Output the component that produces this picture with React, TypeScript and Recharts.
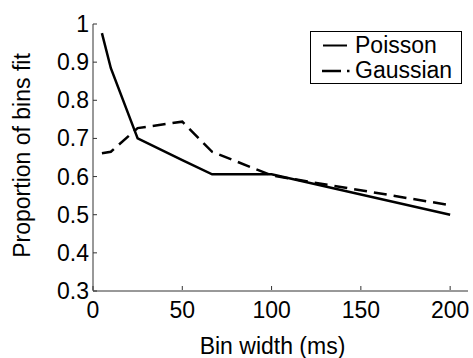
import React from 'react';
import { LineChart, Line, XAxis, YAxis, Legend, Label } from 'recharts';

const binWidths = [5, 10, 25, 50, 66.7, 100, 200];
const poisson = [0.976, 0.884, 0.7, 0.643, 0.606, 0.606, 0.5];
const gaussian = [0.661, 0.665, 0.727, 0.744, 0.665, 0.603, 0.525];
const xTicks = [0, 50, 100, 150, 200];
const yTicks = [0.3, 0.4, 0.5, 0.6, 0.7, 0.8, 0.9, 1];
const seriesNames = ['Poisson', 'Gaussian'];
const xLabel = 'Bin width (ms)';
const yLabel = 'Proportion of bins fit';

const data = binWidths.map((b, i) => ({ bin: b, Poisson: poisson[i], Gaussian: gaussian[i] }));

const FONT = '"Liberation Sans", Arial, Helvetica, sans-serif';
const AXIS = '#333';
const TL = 4;

const fmtY = (v: number) => (Math.abs(v - 1) < 1e-9 ? '1' : v.toFixed(1));

const LeftTick = (p: any) => (
  <g>
    <line x1={p.x + 4} x2={p.x + 4 + TL} y1={p.y} y2={p.y} stroke={AXIS} strokeWidth={1} />
    <text x={p.x} y={p.y} textAnchor="end" dominantBaseline="central" fontSize={23} fontFamily={FONT} fill="#000">
      {fmtY(p.payload.value)}
    </text>
  </g>
);

const BottomTick = (p: any) => (
  <g>
    <line x1={p.x} x2={p.x} y1={p.y - 11} y2={p.y - 11 - TL} stroke={AXIS} strokeWidth={1} />
    <text x={p.x} y={p.y} dy="0.72em" textAnchor="middle" fontSize={23} fontFamily={FONT} fill="#000">
      {p.payload.value}
    </text>
  </g>
);

const TopTick = (p: any) => (
  <line x1={p.x} x2={p.x} y1={p.y} y2={p.y + TL} stroke={AXIS} strokeWidth={1} />
);

const RightTick = (p: any) => (
  <line x1={p.x} x2={p.x - TL} y1={p.y} y2={p.y} stroke={AXIS} strokeWidth={1} />
);

const renderLegend = (props: any) => {
  const items = [...(props.payload || [])].sort(
    (a: any, b: any) => seriesNames.indexOf(a.value) - seriesNames.indexOf(b.value)
  );
  return (
    <div
      style={{
        position: 'relative',
        width: 152,
        height: 53,
        boxSizing: 'border-box',
        border: '1px solid #000',
        background: '#fff',
        fontFamily: FONT,
        fontSize: 23,
        color: '#000',
      }}
    >
      {items.map((it: any, i: number) => {
        const dashed = !!(it.payload && it.payload.strokeDasharray);
        const top = i === 0 ? 1 : 26;
        return (
          <div key={it.value} style={{ position: 'absolute', left: 0, top, height: 25, width: 150 }}>
            <svg width={40} height={25} style={{ position: 'absolute', left: 10, top: 0 }}>
              {dashed ? (
                <g>
                  <line x1={1} x2={20} y1={13} y2={13} stroke="#000" strokeWidth={2.5} />
                  <line x1={26} x2={28.5} y1={13} y2={13} stroke="#000" strokeWidth={2.5} />
                </g>
              ) : (
                <line x1={2} x2={26} y1={12.5} y2={12.5} stroke="#000" strokeWidth={2} />
              )}
            </svg>
            <span style={{ position: 'absolute', left: 44, top: 0, lineHeight: '25px', whiteSpace: 'nowrap' }}>
              {it.value}
            </span>
          </div>
        );
      })}
    </div>
  );
};

export default function App() {
  return (
    <div style={{ position: 'absolute', left: 0, top: 0, background: '#fff' }}>
      <LineChart width={473} height={358} data={data} margin={{ top: 24, right: 5, left: 0, bottom: 0 }}>
        <XAxis
          dataKey="bin"
          type="number"
          domain={[0, 210]}
          ticks={xTicks}
          allowDataOverflow
          height={67}
          tickSize={0}
          tickMargin={10}
          tickLine={false}
          axisLine={{ stroke: AXIS, strokeWidth: 1 }}
          tick={BottomTick}
          interval={0}
        >
          <Label
            content={(lp: any) => {
              const vb = lp.viewBox;
              return (
                <text x={vb.x + vb.width / 2 - 8} y={354} textAnchor="middle" fontSize={23} fontFamily={FONT} fill="#000">
                  {xLabel}
                </text>
              );
            }}
          />
        </XAxis>
        <XAxis
          xAxisId="top"
          orientation="top"
          dataKey="bin"
          type="number"
          domain={[0, 210]}
          ticks={xTicks}
          allowDataOverflow
          height={0}
          tickSize={0}
          tickMargin={0}
          tickLine={false}
          axisLine={{ stroke: AXIS, strokeWidth: 1 }}
          tick={TopTick}
          interval={0}
        />
        <YAxis
          type="number"
          domain={[0.3, 1]}
          ticks={yTicks}
          allowDataOverflow
          width={93}
          tickSize={0}
          tickMargin={4}
          tickLine={false}
          axisLine={{ stroke: AXIS, strokeWidth: 1 }}
          tick={LeftTick}
          interval={0}
        >
          <Label
            content={(lp: any) => {
              const vb = lp.viewBox;
              const cy = vb.y + vb.height / 2 - 2;
              return (
                <text
                  x={30}
                  y={cy}
                  transform={`rotate(-90 30 ${cy})`}
                  textAnchor="middle"
                  fontSize={23}
                  fontFamily={FONT}
                  fill="#000"
                >
                  {yLabel}
                </text>
              );
            }}
          />
        </YAxis>
        <YAxis
          yAxisId="right"
          orientation="right"
          type="number"
          domain={[0.3, 1]}
          ticks={yTicks}
          allowDataOverflow
          width={0}
          tickSize={0}
          tickMargin={0}
          tickLine={false}
          axisLine={{ stroke: AXIS, strokeWidth: 1 }}
          tick={RightTick}
          interval={0}
        />
        <Legend
          layout="vertical"
          align="center"
          verticalAlign="middle"
          wrapperStyle={{ left: 310, top: 31, width: 152, height: 53 }}
          content={renderLegend}
        />
        <Line
          dataKey={seriesNames[0]}
          name={seriesNames[0]}
          stroke="#000"
          strokeWidth={2.5}
          dot={false}
          type="linear"
          isAnimationActive={false}
        />
        <Line
          dataKey={seriesNames[1]}
          name={seriesNames[1]}
          stroke="#000"
          strokeWidth={2.5}
          strokeDasharray="13 7"
          dot={false}
          type="linear"
          isAnimationActive={false}
        />
      </LineChart>
    </div>
  );
}
